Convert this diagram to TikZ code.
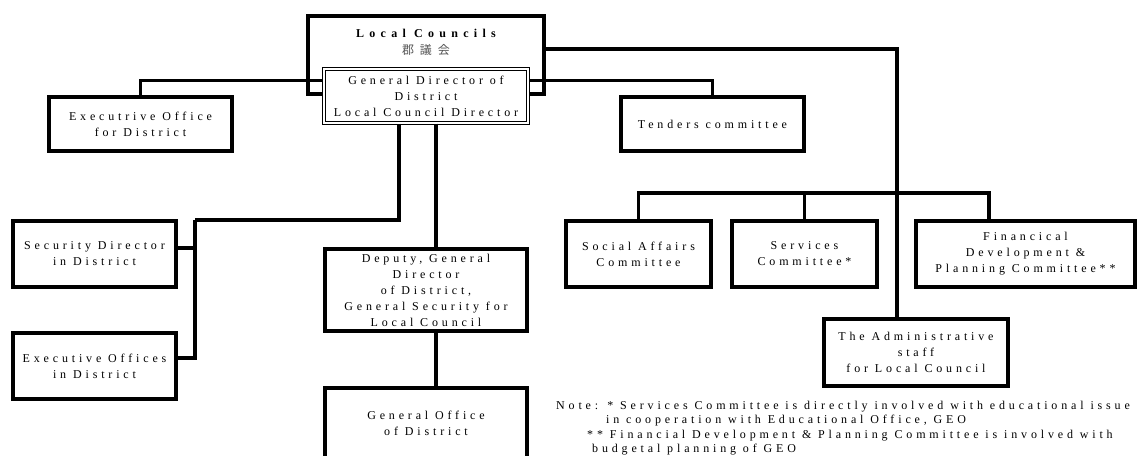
\documentclass[tikz,border=0pt]{standalone}
\usepackage{fontspec}
\setmainfont{Liberation Serif}[LetterSpace=32]
\newfontfamily\cjk{Noto Sans CJK JP}
\newfontfamily\titlefont{Liberation Serif}[LetterSpace=44]
\usetikzlibrary{positioning}
\definecolor{cjkGray}{HTML}{555555}

\begin{document}
\begin{tikzpicture}[
    x=1pt, y=-1pt,
    box/.style={draw, line width=3.2pt, fill=white, align=center, inner sep=0pt,
                font=\fontsize{12}{16}\selectfont},
    headbox/.style={box, line width=1.1pt, double, double distance=1.6pt},
    link/.style={line width=3.2pt},
    note/.style={align=left, inner sep=0pt, font=\fontsize{12}{14.5}\selectfont},
  ]
    \useasboundingbox (0,0) rectangle (1137,455);

    % council and its director
    \node[box, minimum width=236pt, minimum height=78pt] (council) at (426,55) {};
    \node[font=\fontsize{12}{17}\selectfont, align=center] (councilname) at (426,42)
      {{\titlefont\bfseries Local Councils}\\{\cjk\color{cjkGray}郡\hspace{6pt}議\hspace{6pt}会}};

    \node[box, minimum width=183pt, minimum height=54pt] (execoffice) at (140.5,124)
      {Executrive Office\\for District};
    \node[box, minimum width=183pt, minimum height=54pt] (tenders) at (712.5,124)
      {Tenders committee};

    \draw[link] ([yshift=15pt]council.south west) ++(16,0) -| (execoffice.north);
    \draw[link] ([yshift=15pt]council.south east) ++(-16,0) -| (tenders.north);

    \node[headbox, minimum width=204pt, minimum height=54pt] (director) at (426,96)
      {General Director of\\District\\Local Council Director};

    % security branch
    \node[box, minimum width=163pt, minimum height=66pt] (security) at (94.5,254)
      {Security Director\\in District};
    \node[box, minimum width=163pt, minimum height=66pt] (execoffices) at (94.5,366)
      {Executive Offices\\in District};
    \coordinate (secbus) at (195,220);
    \draw[link] ([xshift=-27pt]director.south) |- (secbus);
    \draw[link] (secbus) |- ([yshift=6pt]security.east);
    \draw[link] (secbus) |- ([yshift=8pt]execoffices.east);

    % deputy branch
    \node[box, minimum width=202pt, minimum height=82pt] (deputy) at (426,290)
      {Deputy, General\\Director\\of District,\\General Security for\\Local Council};
    \node[box, minimum width=202pt, minimum height=72pt] (genoffice) at (426,424)
      {\raisebox{4pt}{\begin{tabular}{@{}c@{}}General Office\\of District\end{tabular}}};
    \draw[link] ([xshift=10pt]director.south) -- ([xshift=10pt]deputy.north);
    \draw[link] ([xshift=10pt]deputy.south) -- ([xshift=10pt]genoffice.north);

    % committees
    \node[box, minimum width=145pt, minimum height=66pt] (social) at (638.5,254)
      {Social Affairs\\Committee};
    \node[box, minimum width=145pt, minimum height=66pt] (services) at (804.5,254)
      {Services\\Committee*};
    \node[box, minimum width=219pt, minimum height=66pt] (financial) at (1025.5,254)
      {Financical\\Development \&\\Planning Committee**};
    \node[box, minimum width=184pt, minimum height=67pt] (admin) at (916,352.5)
      {The Administrative\\staff\\for Local Council};

    \coordinate (combus) at (897,193);
    \draw[link] ([yshift=6pt]council.east) -| ([xshift=-19pt]admin.north);
    \draw[link] (social.north) |- (combus);
    \draw[link] (services.north) |- (combus);
    \draw[link] ([xshift=-36.5pt]financial.north) |- (combus);

    \node[note, anchor=north west] (notes) at (556,400.5)
      {Note: * Services Committee is directly involved with educational issue\\
       \hspace*{50pt}in cooperation with Educational Office, GEO\\
       \hspace*{31pt}** Financial Development \& Planning Committee is involved with\\
       \hspace*{36pt}budgetal planning of GEO};
\end{tikzpicture}
\end{document}
